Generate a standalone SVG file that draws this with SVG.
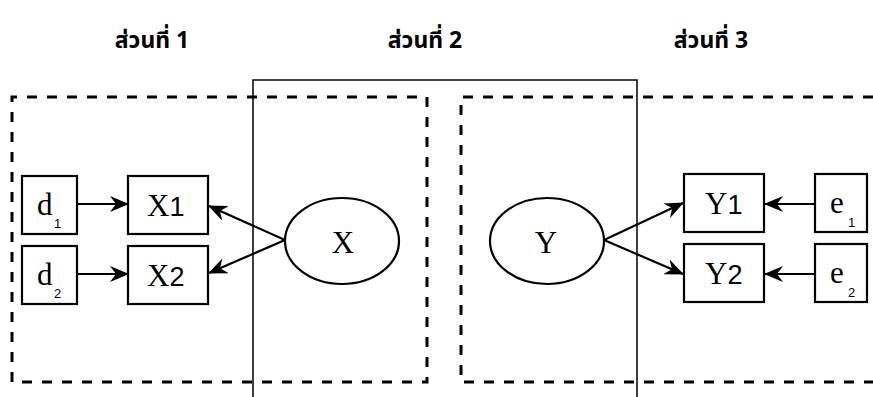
<svg xmlns="http://www.w3.org/2000/svg" width="873" height="397" viewBox="0 0 873 397">
<style>
.hdr{font-family:"Noto Sans Thai","Noto Sans","DejaVu Sans",sans-serif;font-size:23px;font-weight:bold;fill:#000;text-anchor:middle}
.box{fill:#fff;stroke:#000;stroke-width:2.2}
.dash{fill:none;stroke:#000;stroke-width:3;stroke-dasharray:10 10}
.solid{fill:none;stroke:#000;stroke-width:1.5}
.lbl{font-family:"Liberation Serif","Times New Roman",serif;font-size:31px;fill:#000}
.sub{font-family:"Liberation Sans",Arial,sans-serif;font-size:13px;fill:#000}
.num{font-family:"Liberation Sans",Arial,sans-serif;font-size:27px;fill:#000}
.arr{fill:none;stroke:#000;stroke-width:2.2;marker-end:url(#ah)}
</style>
<defs>
<marker id="ah" markerUnits="userSpaceOnUse" markerWidth="20" markerHeight="16" refX="18" refY="8" orient="auto">
<path d="M0,0 L19,8 L0,16 L6,8 Z" fill="#000"/>
</marker>
</defs>
<rect width="873" height="397" fill="#fff"/>
<g id="headers">
<text class="hdr" x="152" y="48">ส่วนที่ 1</text>
<text class="hdr" x="425" y="48">ส่วนที่ 2</text>
<text class="hdr" x="711" y="48">ส่วนที่ 3</text>
</g>
<g id="part2-frame">
<path class="solid" d="M253,397 V80 H637 V397"/>
</g>
<g id="part1-frame">
<path class="dash" d="M12,382 V97 H427 V382 H12"/>
</g>
<g id="part3-frame">
<path class="dash" d="M873,97 H461 V382 H873"/>
</g>
<g id="connectors">
<line class="arr" x1="77" y1="204" x2="128" y2="204"/>
<line class="arr" x1="77" y1="274" x2="128" y2="274"/>
<line class="arr" x1="285" y1="240" x2="209" y2="206"/>
<line class="arr" x1="285" y1="240" x2="209" y2="273"/>
<line class="arr" x1="604" y1="240" x2="683" y2="203"/>
<line class="arr" x1="604" y1="240" x2="683" y2="274"/>
<line class="arr" x1="815" y1="204" x2="765" y2="204"/>
<line class="arr" x1="815" y1="274" x2="765" y2="274"/>
</g>
<g id="d1"><rect class="box" x="22" y="176" width="55" height="58"/><text class="lbl" x="37" y="215">d</text><text class="sub" x="54" y="228">1</text></g>
<g id="d2"><rect class="box" x="22" y="246" width="55" height="58"/><text class="lbl" x="37" y="285">d</text><text class="sub" x="54" y="298">2</text></g>
<g id="X1"><rect class="box" x="128" y="176" width="80" height="58"/><text class="lbl" x="147" y="216">X<tspan class="num">1</tspan></text></g>
<g id="X2"><rect class="box" x="128" y="246" width="80" height="58"/><text class="lbl" x="147" y="286">X<tspan class="num">2</tspan></text></g>
<g id="X"><ellipse class="box" cx="342" cy="241" rx="57" ry="43"/><text class="lbl" x="343" y="253" text-anchor="middle">X</text></g>
<g id="Y"><ellipse class="box" cx="547" cy="241" rx="57" ry="43"/><text class="lbl" x="546" y="253" text-anchor="middle">Y</text></g>
<g id="Y1"><rect class="box" x="684" y="174" width="80" height="58"/><text class="lbl" x="705" y="214">Y<tspan class="num">1</tspan></text></g>
<g id="Y2"><rect class="box" x="684" y="244" width="80" height="58"/><text class="lbl" x="705" y="284">Y<tspan class="num">2</tspan></text></g>
<g id="e1"><rect class="box" x="815" y="174" width="52" height="58"/><text class="lbl" x="830" y="213">e</text><text class="sub" x="848" y="227">1</text></g>
<g id="e2"><rect class="box" x="815" y="244" width="52" height="58"/><text class="lbl" x="830" y="283">e</text><text class="sub" x="848" y="297">2</text></g>
</svg>
